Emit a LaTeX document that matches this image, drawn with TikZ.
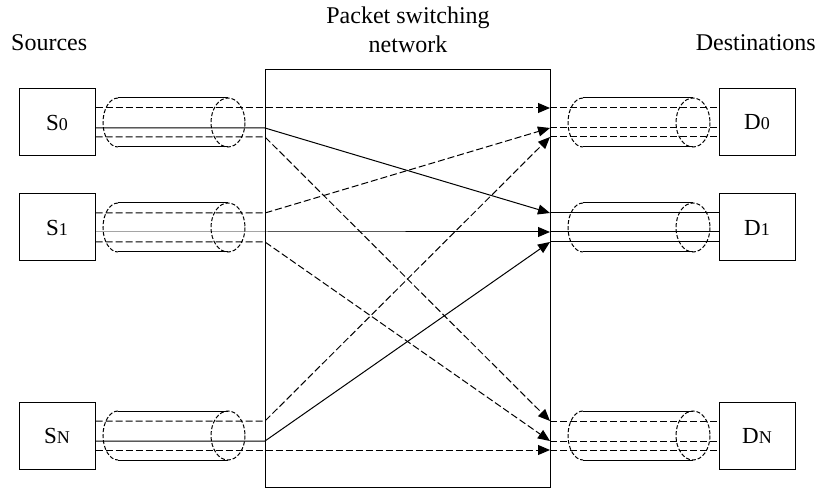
\documentclass[tikz,border=0pt]{standalone}
\usepackage{fontspec}
\setmainfont{Liberation Serif}
\usetikzlibrary{arrows.meta}

\newcommand\lowidx[1]{{\fontsize{18}{18}\selectfont #1}}

\tikzset{
  unitbox/.style={draw, line width=1pt, minimum width=76pt, minimum height=67pt, inner sep=0pt, font=\fontsize{23}{26}\selectfont},
  wire/.style={line width=1pt},
  dashwire/.style={wire, dash pattern=on 7pt off 3pt},
  tip/.style={-{Triangle[length=12pt,width=10pt]}},
  lbl/.style={font=\fontsize{24}{26}\selectfont, inner sep=0pt}
}

\begin{document}
\begin{tikzpicture}[x=1pt, y=-1pt]
  \useasboundingbox (0,0) rectangle (820,489);

  % Titel
  \node[lbl, anchor=base west] (srclbl) at (11,51) {Sources};
  \node[lbl, anchor=base] (netlbl1) at (408,24) {Packet switching};
  \node[lbl, anchor=base] (netlbl2) at (408,53) {network};
  \node[lbl, anchor=base east] (dstlbl) at (816,51) {Destinations};

  % Netzwerk
  \draw[wire] (265,70) rectangle (550,487);

  % Quellen und Ziele
  \node[unitbox] (S0) at (57,122.5) {S\lowidx{0}};
  \node[unitbox] (S1) at (57,227.5) {S\lowidx{1}};
  \node[unitbox] (SN) at (57,435.5) {S\lowidx{N}};
  \node[unitbox] (D0) at (757,122.5) {D\lowidx{0}};
  \node[unitbox] (D1) at (757,227.5) {D\lowidx{1}};
  \node[unitbox] (DN) at (757,435.5) {D\lowidx{N}};

  % Makro fuer ein Kabel: 1=x links, 2=y Mitte
  \def\cable#1#2{
    \begin{scope}[shift={(#1,#2)}]
      \draw[wire] (15,-24.5) -- (125,-24.5);
      \draw[wire] (15,24.5) -- (125,24.5);
      \draw[wire, dash pattern=on 4pt off 2pt] (15,-24.5) arc[start angle=270, end angle=90, x radius=15, y radius=24.5];
      \draw[wire, dash pattern=on 4pt off 2pt] (125,0) ellipse[x radius=17, y radius=24.5];
    \end{scope}
  }

  \cable{103}{122.5}
  \cable{103}{227.5}
  \cable{103}{435.5}
  \cable{568}{122.5}
  \cable{568}{227.5}
  \cable{568}{435.5}

  % Ports am Netzwerk
  \coordinate (s0a) at (265,108); \coordinate (s0b) at (265,128); \coordinate (s0c) at (265,137);
  \coordinate (s1a) at (265,213); \coordinate (s1b) at (265,232); \coordinate (s1c) at (265,242);
  \coordinate (sNa) at (265,421); \coordinate (sNb) at (265,441); \coordinate (sNc) at (265,450);
  \coordinate (d0a) at (550,108); \coordinate (d0b) at (550,128); \coordinate (d0c) at (550,137);
  \coordinate (d1a) at (550,213); \coordinate (d1b) at (550,232); \coordinate (d1c) at (550,242);
  \coordinate (dNa) at (550,421); \coordinate (dNb) at (550,441); \coordinate (dNc) at (550,450);

  % Verbindungen Quelle -> Ziel
  \draw[dashwire, tip] (S0.east |- s0a) -- (s0a) -- (d0a);
  \draw[wire, tip] (S0.east |- s0b) -- (s0b) -- (d1a);
  \draw[dashwire, tip] (S0.east |- s0c) -- (s0c) -- (dNa);
  \draw[dashwire, tip] (S1.east |- s1a) -- (s1a) -- (d0b);
  \draw[wire, tip] (S1.east |- s1b) -- (s1b) -- (d1b);
  \draw[dashwire, tip] (S1.east |- s1c) -- (s1c) -- (dNb);
  \draw[dashwire, tip] (SN.east |- sNa) -- (sNa) -- (d0c);
  \draw[wire, tip] (SN.east |- sNb) -- (sNb) -- (d1c);
  \draw[dashwire, tip] (SN.east |- sNc) -- (sNc) -- (dNc);

  % Leitungen zu den Zielen
  \draw[dashwire] (d0a) -- (D0.west |- d0a);
  \draw[dashwire] (d0b) -- (D0.west |- d0b);
  \draw[dashwire] (d0c) -- (D0.west |- d0c);
  \draw[wire] (d1a) -- (D1.west |- d1a);
  \draw[wire] (d1b) -- (D1.west |- d1b);
  \draw[wire] (d1c) -- (D1.west |- d1c);
  \draw[dashwire] (dNa) -- (DN.west |- dNa);
  \draw[dashwire] (dNb) -- (DN.west |- dNb);
  \draw[dashwire] (dNc) -- (DN.west |- dNc);

\end{tikzpicture}
\end{document}
